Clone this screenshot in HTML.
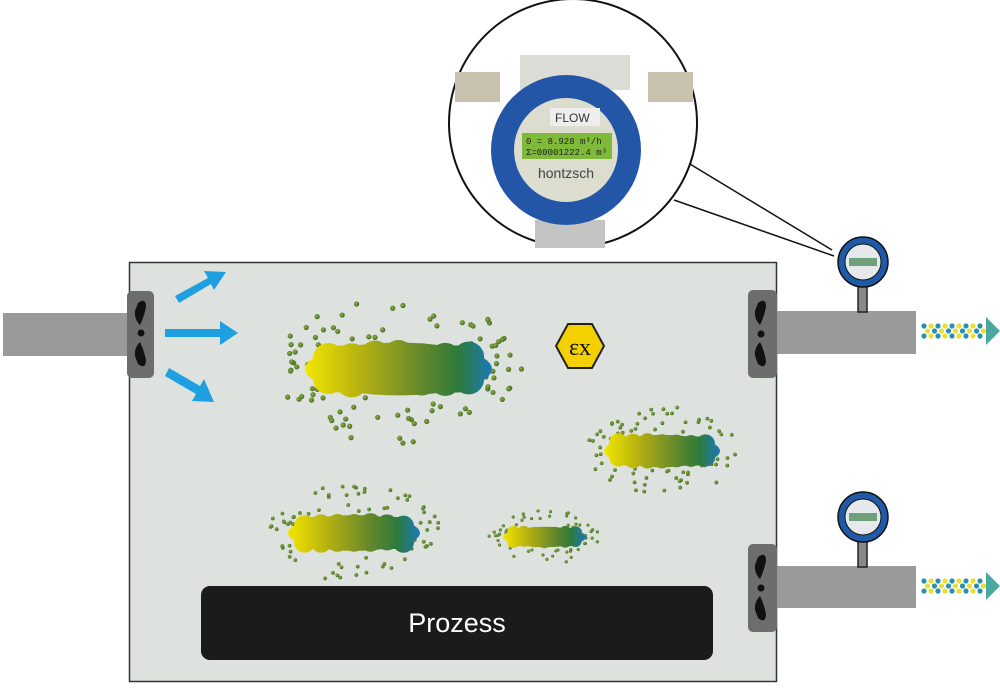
<!DOCTYPE html>
<html><head><meta charset="utf-8"><style>
html,body{margin:0;padding:0;background:#fff;width:1000px;height:688px;overflow:hidden}
svg{display:block}
</style></head><body>
<svg id="s" width="1000" height="688" viewBox="0 0 1000 688" xmlns="http://www.w3.org/2000/svg">
<defs id="defs">
<radialGradient id="dl" cx="0.4" cy="0.4" r="0.6"><stop offset="0" stop-color="#9ab040"/><stop offset="1" stop-color="#3d6a25"/></radialGradient>
</defs>
<rect x="129.5" y="262.5" width="647" height="419" fill="#dde2df" stroke="#333" stroke-width="1.5"/>
<rect x="3" y="313" width="126" height="43" fill="#9a9a9a"/>
<rect x="127" y="291" width="27" height="87" rx="5" fill="#6d6d6d"/>
<path d="M138 303 q8 -6 8 4 q-2 10 -6 18 q-6 -6 -5 -14z M138 364 q8 6 8 -4 q-2 -10 -6 -18 q-6 6 -5 14z" fill="#111"/>
<circle cx="141" cy="333" r="3.5" fill="#111"/>
<rect x="776" y="311" width="140" height="43" fill="#9a9a9a"/>
<rect x="748" y="290" width="29" height="88" rx="5" fill="#6d6d6d"/>
<path d="M758 303 q8 -6 8 4 q-2 10 -6 18 q-6 -6 -5 -14z M758 364 q8 6 8 -4 q-2 -10 -6 -18 q-6 6 -5 14z" fill="#111"/>
<circle cx="761" cy="334" r="3.5" fill="#111"/>
<rect x="776" y="566" width="140" height="42" fill="#9a9a9a"/>
<rect x="748" y="544" width="29" height="88" rx="5" fill="#6d6d6d"/>
<path d="M758 557 q8 -6 8 4 q-2 10 -6 18 q-6 -6 -5 -14z M758 618 q8 6 8 -4 q-2 -10 -6 -18 q-6 6 -5 14z" fill="#111"/>
<circle cx="761" cy="588" r="3.5" fill="#111"/>
<g id="gauge">
<rect x="858" y="285" width="9" height="27" fill="#888" stroke="#222" stroke-width="1.5"/>
<circle cx="863" cy="262" r="25" fill="#1e5aa8" stroke="#111" stroke-width="1.5"/>
<circle cx="863" cy="262" r="18" fill="#e6e9ec" stroke="#111" stroke-width="1"/>
<rect x="849" y="258" width="28" height="8" fill="#6fa07a"/>
</g>
<use href="#gauge" transform="translate(0,255)"/>
<line x1="832" y1="250" x2="680" y2="158" stroke="#111" stroke-width="1.5"/>
<line x1="834" y1="256" x2="674" y2="200" stroke="#111" stroke-width="1.5"/>
<circle cx="573" cy="123" r="124" fill="#fff" stroke="#111" stroke-width="2"/>
<rect x="520" y="55" width="110" height="35" fill="#dcdcd6"/>
<rect x="455" y="72" width="45" height="30" fill="#c8c2ae"/>
<rect x="648" y="72" width="45" height="30" fill="#c8c2ae"/>
<rect x="535" y="220" width="70" height="28" fill="#c4c4c4"/>
<circle cx="566" cy="150" r="75" fill="#2456a8"/>
<circle cx="566" cy="150" r="52" fill="#dcdccf"/>
<rect x="550" y="108" width="50" height="18" fill="#eee"/>
<text x="555" y="122" font-family="Liberation Sans,sans-serif" font-size="12" fill="#333">FLOW</text>
<rect x="522" y="133" width="90" height="26" fill="#7fba3a"/>
<text x="526" y="144" font-family="Liberation Mono,monospace" font-size="9" fill="#222">0 = 8.928 m³/h</text>
<text x="526" y="155" font-family="Liberation Mono,monospace" font-size="9" fill="#222">Σ=00001222.4 m³</text>
<text x="566" y="178" text-anchor="middle" font-family="Liberation Sans,sans-serif" font-size="14" fill="#444">hontzsch</text>
<polygon points="568,324 592,324 604,346 592,368 568,368 556,346" fill="#f5d000" stroke="#222" stroke-width="2"/>
<text x="580" y="355" text-anchor="middle" font-family="Liberation Serif,serif" font-size="24" fill="#111">εx</text>
<g fill="#1ea0e0">
<polygon points="175,296 208,278 204,271 226,272 214,290 211,284 179,303"/>
<polygon points="165,329 220,329 220,321 238,333 220,345 220,337 165,337"/>
<polygon points="169,368 200,386 204,379 214,402 192,401 196,394 165,376"/>
</g>
<g id="clouds"></g>
<g id="darr"></g>
<rect x="201" y="586" width="512" height="74" rx="9" fill="#1b1b1b"/>
<text x="457" y="632" text-anchor="middle" font-family="Liberation Sans,sans-serif" font-size="27" fill="#fff">Prozess</text>
</svg>
<script>
var NS="http://www.w3.org/2000/svg",cg=document.getElementById("clouds"),defs=document.getElementById("defs");
var seed=7;function r(){seed=(seed*16807)%2147483647;return seed/2147483647;}
var n=0;
function el(t,a,p){var e=document.createElementNS(NS,t);for(var k in a)e.setAttribute(k,a[k]);(p||cg).appendChild(e);return e;}
function cloud(x,y,w,h,dots,dr){
 n++;var id="cg"+n;
 var g=el("linearGradient",{id:id,gradientUnits:"userSpaceOnUse",x1:x,y1:0,x2:x+w,y2:0},defs);
 [[0,"#f3e600"],[0.3,"#b5b010"],[0.6,"#6a8a2a"],[0.82,"#2e7a3a"],[1,"#1a7ab8"]].forEach(function(s){el("stop",{offset:s[0],"stop-color":s[1]},g);});
 var cx=x+w/2,cy=y+h/2,hw=w/2,hh=h/2;
 for(var i=0;i<dots;i++){var a=r()*6.283;
  var kx=0.9+r()*0.45,ky=1.0+r()*1.4;
  el("circle",{cx:cx+Math.cos(a)*hw*kx,cy:cy+Math.sin(a)*hh*ky,r:dr,fill:"url(#dl)"});}
 var grp=el("g",{fill:"url(#"+id+")"});
 el("ellipse",{cx:cx,cy:cy,rx:hw,ry:hh*0.85},grp);
 el("rect",{x:x+w*0.08,y:y+h*0.12,width:w*0.84,height:h*0.76,rx:h*0.3},grp);
 for(var i=1;i<8;i++){var px=x+w*i/8;
  el("circle",{cx:px,cy:y+hh*0.55+r()*hh*0.15,r:hh*0.5},grp);
  el("circle",{cx:px,cy:y+h-hh*0.55-r()*hh*0.15,r:hh*0.5},grp);}
}
cloud(305,338,187,62,95,2.6);cloud(604,432,116,38,75,1.9);cloud(288,512,132,42,75,1.9);cloud(503,525,83,24,60,1.6);
var da=document.getElementById("darr");
function darr(x,y){for(var i=0;i<9;i++)for(var j=-1;j<=1;j++){
 el("circle",{cx:x+i*7+(j==0?3.5:0),cy:y+j*5,r:2.6,fill:(i+j)%2?"#2a8fb0":"#e8e030"},da);}
 el("polygon",{points:(x+62)+","+(y-14)+" "+(x+76)+","+y+" "+(x+62)+","+(y+14),fill:"#4aa8a0"},da);}
darr(924,331);darr(924,586);
</script>
</body></html>
